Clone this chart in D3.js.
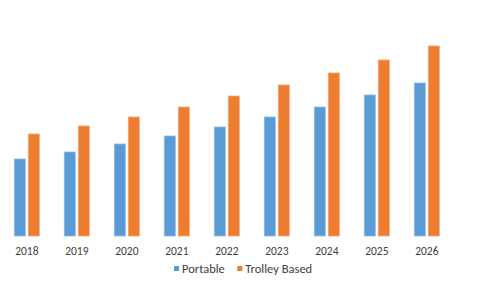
<!DOCTYPE html>
<html>
<head>
<meta charset="utf-8">
<script src="https://cdn.jsdelivr.net/npm/d3@7"></script>
<style>
  html, body { margin: 0; padding: 0; background: #fff; }
  svg text { font-family: Calibri, Carlito, "Open Sans", sans-serif; fill: #404040; }
  .axis .domain { display: none; }
</style>
</head>
<body>
<div id="chart"></div>
<script>
const W = 480, H = 288;

// data
const years = ["2018", "2019", "2020", "2021", "2022", "2023", "2024", "2025", "2026"];
const series = ["Portable", "Trolley Based"];
const portable = [77, 84, 92, 100, 109, 119, 129, 141, 153];
const trolley = [102, 110, 119, 129, 140, 151, 163, 176, 190];
const colors = ["#5B9BD5", "#ED7D31"];
const strokes = ["#8DB9E6", "#F4A573"];

const rows = years.map((yr, i) => ({year: yr, values: [portable[i], trolley[i]]}));

const svg = d3.select("#chart").append("svg")
  .attr("width", W).attr("height", H).attr("viewBox", `0 0 ${W} ${H}`);

const x0 = d3.scaleBand().domain(years).range([1.8, 451.8]);
const x1 = d3.scaleBand().domain(series).range([0, 25]).paddingInner(2 - 25 / 14);
const y = d3.scaleLinear().domain([0, 200]).range([236, 36]);

// bars
const groups = svg.selectAll("g.grp")
  .data(rows)
  .join("g")
  .attr("class", "grp")
  .attr("transform", d => `translate(${x0(d.year) + (x0.bandwidth() - 25) / 2},0)`);

groups.selectAll("rect")
  .data(d => d.values.map((v, i) => ({key: series[i], v, i})))
  .join("rect")
  .attr("x", d => x1(d.key))
  .attr("y", d => y(d.v))
  .attr("width", x1.bandwidth())
  .attr("height", d => y(0) - y(d.v))
  .attr("fill", d => colors[d.i])
  .attr("stroke", d => strokes[d.i])
  .attr("stroke-width", 0.8);

// x axis labels
const xAxis = svg.append("g").attr("class", "axis")
  .attr("transform", `translate(0, ${y(0)})`)
  .call(d3.axisBottom(x0).tickSize(0).tickPadding(10.5));
xAxis.selectAll("text").style("font-size", "11.5px").attr("fill", "#404040");

// legend
const legend = svg.append("g").attr("transform", "translate(174, 268.5)");
const legX = [0, 63.3];
series.forEach((s, i) => {
  const item = legend.append("g").attr("transform", `translate(${legX[i]},0)`);
  item.append("rect").attr("x", 0).attr("y", -2.5).attr("width", 5).attr("height", 5).attr("fill", colors[i]);
  item.append("text").attr("x", 8).attr("y", 0).attr("dy", "0.35em")
    .style("font-size", "12.5px").text(s);
});
</script>
</body>
</html>
